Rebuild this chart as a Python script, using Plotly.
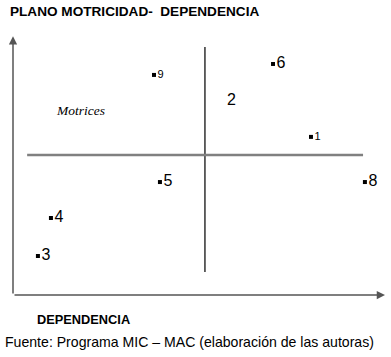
import plotly.graph_objects as go

# Data (dependence on x, motricity on y; 0-100 scale)
labels = ["9", "6", "1", "5", "8", "4", "3"]
dependencia = [37.9, 69.9, 80.1, 39.5, 94.6, 10.2, 6.7]
motricidad = [86.3, 90.6, 62.0, 44.3, 44.3, 30.2, 15.3]
label_sizes = [11, 16, 11, 16, 16, 16, 16]

# variable shown without marker
extra_label = ["2"]
extra_dep = [57.5]
extra_mot = [76.1]

# quadrant split lines
split_x = 51.6
split_y = 54.9

FONT = "Liberation Sans, Arial, sans-serif"
W, H = 391, 357

fig = go.Figure()

# quadrant lines
fig.add_trace(go.Scatter(x=[split_x, split_x], y=[9.0, 97.3], mode="lines",
                         line=dict(color="#111111", width=1.3), hoverinfo="skip", showlegend=False))
fig.add_trace(go.Scatter(x=[3.8, 94.1], y=[split_y, split_y], mode="lines",
                         line=dict(color="#808080", width=2.5), hoverinfo="skip", showlegend=False))

# points
for lab, xv, yv, fs in zip(labels, dependencia, motricidad, label_sizes):
    fig.add_trace(go.Scatter(x=[xv], y=[yv], mode="markers+text", text=[lab],
                             textposition="middle right", cliponaxis=False,
                             textfont=dict(family=FONT, size=fs, color="#000000"),
                             marker=dict(symbol="square", size=4, color="#000000"),
                             showlegend=False))

fig.add_trace(go.Scatter(x=extra_dep, y=extra_mot, mode="text", text=extra_label,
                         textposition="middle right", cliponaxis=False,
                         textfont=dict(family=FONT, size=16, color="#000000"),
                         showlegend=False))

# axes with arrows
fig.add_annotation(x=0, y=101.5, ax=0, ay=0, xref="x", yref="y", axref="x", ayref="y",
                   showarrow=True, arrowhead=2, arrowsize=1.1, arrowwidth=1.5,
                   arrowcolor="#555555", text="")
fig.add_annotation(x=100, y=0, ax=0, ay=0, xref="x", yref="y", axref="x", ayref="y",
                   showarrow=True, arrowhead=2, arrowsize=1.1, arrowwidth=1.5,
                   arrowcolor="#555555", text="")

fig.add_annotation(x=11.0, y=72.5, xref="x", yref="y", text="<i>Motrices</i>",
                   showarrow=False, xanchor="left",
                   font=dict(family="Liberation Serif, Times New Roman, serif", size=13.5, color="#000000"))

# plot area spans 13..385 px horizontally and 40..295 px vertically for 0..100
x0 = (0 - 13) / 3.72
x1 = (W - 13) / 3.72
y0 = (295 - H) / 2.55
y1 = 295 / 2.55

fig.update_layout(
    width=W, height=H,
    margin=dict(l=0, r=0, t=0, b=0),
    paper_bgcolor="white", plot_bgcolor="white",
    xaxis=dict(range=[x0, x1], visible=False, fixedrange=True),
    yaxis=dict(range=[y0, y1], visible=False, fixedrange=True),
    showlegend=False,
)

fig.add_annotation(x=8 / W, y=1 - 12 / H, xref="paper", yref="paper",
                   text="<b>PLANO MOTRICIDAD-  DEPENDENCIA</b>", showarrow=False,
                   xanchor="left", yanchor="middle", font=dict(family=FONT, size=13.6, color="#000000"))
fig.add_annotation(x=35 / W, y=1 - 319 / H, xref="paper", yref="paper",
                   text="<b>DEPENDENCIA</b>", showarrow=False,
                   xanchor="left", yanchor="middle", font=dict(family=FONT, size=12.8, color="#000000"))
fig.add_annotation(x=3 / W, y=1 - 342 / H, xref="paper", yref="paper",
                   text="Fuente: Programa MIC – MAC (elaboración de las autoras)", showarrow=False,
                   xanchor="left", yanchor="middle", font=dict(family=FONT, size=14.1, color="#000000"))

fig.write_html("out.html", config={"displayModeBar": False},
               post_script="document.body.style.margin='0';")
